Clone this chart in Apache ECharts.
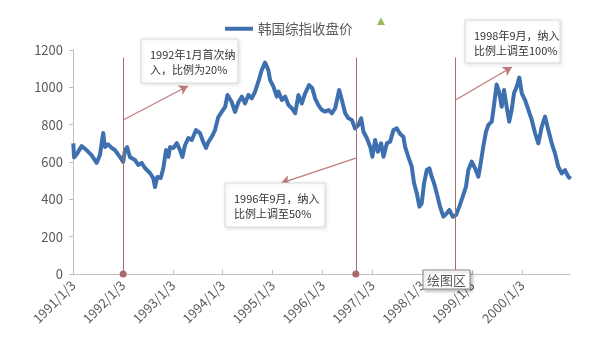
<!DOCTYPE html>
<html><head><meta charset="utf-8">
<script src="https://cdn.jsdelivr.net/npm/echarts@6/dist/echarts.min.js"></script>
<style>html,body{margin:0;padding:0;background:#fff}#c{width:616px;height:353px}</style>
</head><body><div id="c"></div>
<script>
const seriesName = '韩国综指收盘价';
const dates = [
'1991-01-03','1991-01-09','1991-01-27','1991-03-05','1991-04-10','1991-05-17','1991-06-23','1991-07-17','1991-08-10','1991-08-23',
'1991-09-16','1991-10-11','1991-11-04','1991-12-10','1992-01-03','1992-01-16','1992-02-01','1992-02-21','1992-03-29','1992-04-22',
'1992-05-17','1992-06-10','1992-07-17','1992-08-10','1992-08-23','1992-09-09','1992-10-04','1992-10-23','1992-11-12','1992-11-29',
'1992-12-11','1993-01-06','1993-01-30','1993-02-23','1993-03-12','1993-04-01','1993-04-25','1993-05-20','1993-06-20','1993-07-19',
'1993-08-12','1993-09-01','1993-09-18','1993-10-13','1993-11-06','1993-11-30','1993-12-25','1994-01-19','1994-02-05','1994-03-08',
'1994-04-01','1994-04-26','1994-05-21','1994-06-14','1994-07-08','1994-08-02','1994-08-26','1994-09-19','1994-10-14','1994-11-07',
'1994-12-01','1994-12-14','1995-01-07','1995-02-01','1995-02-13','1995-03-10','1995-04-03','1995-04-27','1995-05-22','1995-06-15',
'1995-07-09','1995-08-03','1995-08-27','1995-09-25','1995-10-19','1995-11-08','1995-12-02','1995-12-27','1996-01-21','1996-02-14',
'1996-03-10','1996-04-03','1996-05-02','1996-05-22','1996-06-15','1996-07-09','1996-08-03','1996-08-27','1996-09-20','1996-10-10',
'1996-10-27','1996-11-21','1996-12-15','1997-01-01','1997-01-21','1997-02-10','1997-03-06','1997-03-23','1997-04-17','1997-05-11',
'1997-06-04','1997-06-29','1997-07-23','1997-08-16','1997-08-28','1997-09-21','1997-10-16','1997-11-02','1997-11-22','1997-12-11',
'1997-12-28','1998-01-14','1998-02-03','1998-02-22','1998-03-11','1998-03-28','1998-04-17','1998-05-11','1998-06-04','1998-06-29',
'1998-07-18','1998-08-12','1998-09-05','1998-09-29','1998-10-24','1998-11-17','1998-12-04','1998-12-29','1999-01-22','1999-02-15',
'1999-03-04','1999-03-23','1999-04-12','1999-04-29','1999-05-24','1999-06-05','1999-06-29','1999-07-16','1999-08-05','1999-08-22',
'1999-09-10','1999-09-29','1999-10-17','1999-11-03','1999-11-23','1999-12-12','1999-12-30','2000-01-23','2000-02-16','2000-03-12',
'2000-04-05','2000-04-29','2000-05-24','2000-06-17','2000-07-11','2000-08-05','2000-08-29','2000-09-22','2000-10-17','2000-11-10',
'2000-12-04','2000-12-22'
];
const closeValues = [
700,625,640,685,664,637,595,637,755,680,
695,675,664,627,600,664,680,627,611,584,
595,568,541,514,466,520,514,568,664,627,
680,675,701,664,627,691,728,718,771,755,
707,675,707,734,771,841,868,895,959,921,
868,920,950,914,959,941,977,1030,1093,1132,
1093,1039,1004,950,977,932,950,905,888,861,
959,914,968,1012,995,941,905,879,870,879,
861,888,986,932,861,834,825,780,798,834,
762,727,682,628,718,655,700,628,700,709,
771,780,750,735,682,628,575,486,432,361,
379,486,557,566,521,486,432,361,307,325,
343,307,316,361,414,468,557,602,566,521,
593,682,762,798,816,879,1015,977,896,986,
896,816,879,968,1004,1052,968,932,879,825,
754,700,789,843,771,700,646,575,539,557,
521,510
];
const tickYears = [1991,1992,1993,1994,1995,1996,1997,1998,1999,2000];
const tickLabels = ['1991/1/3','1992/1/3','1993/1/3','1994/1/3','1995/1/3','1996/1/3','1997/1/3','1998/1/3','1999/1/3','2000/1/3'];
const policyDates = ['1992-01-03','1996-09-01','1998-09-01'];
const policyTexts = ['1992年1月首次纳\n入，比例为20%','1996年9月，纳入\n比例上调至50%','1998年9月，纳入\n比例上调至100%'];
const arrowFrom = [['1992-01-03',825],['1996-09-01',621],['1998-09-01',932]];
const arrowTo = [['1993-04-22',1007],['1995-03-04',487],['1999-10-19',1109]];

function toYear(s){const p=s.split('-').map(Number);return p[0]+(Date.UTC(p[0],p[1]-1,p[2])-Date.UTC(p[0],0,1))/(365.25*864e5);}

const lineData = dates.map((d,i)=>[toYear(d), closeValues[i]]);
const markData = [];
policyDates.forEach((d,i)=>{
  markData.push([{coord:[toYear(d),0],symbol:'circle',symbolSize:7,itemStyle:{color:'#b0474a'}},{coord:[toYear(d),1160],symbol:'none'}]);
});
arrowFrom.forEach((f,i)=>{
  const t = arrowTo[i];
  markData.push([{coord:[toYear(f[0]),f[1]],symbol:'none',lineStyle:{color:'#c07a7a',width:1.2,type:'solid'}},{coord:[toYear(t[0]),t[1]],symbol:'arrow',symbolSize:[8,9],itemStyle:{color:'#a8343c'},lineStyle:{color:'#c07a7a',width:1.2,type:'solid'}}]);
});

const font = '"Noto Sans CJK SC", "Noto Sans", sans-serif';
const boxes = [
  {x:141,y:39,w:97,h:44},
  {x:225,y:183,w:100,h:44},
  {x:465,y:20,w:95,h:43}
];
const graphics = [];
boxes.forEach((b,i)=>{
  graphics.push({type:'rect',z:100,shape:{x:b.x,y:b.y,width:b.w,height:b.h},style:{fill:'#fff',stroke:'#dcdcdc',lineWidth:1,shadowBlur:4,shadowColor:'rgba(0,0,0,0.12)',shadowOffsetX:1,shadowOffsetY:1}});
  graphics.push({type:'text',z:101,x:b.x+9,y:b.y+8,style:{text:policyTexts[i],font:'11px '+font,fill:'#333',lineHeight:15,verticalAlign:'top'}});
});
graphics.push({type:'rect',z:100,shape:{x:423,y:270,width:47,height:19},style:{fill:'#fff',stroke:'#8c8c8c',lineWidth:1,shadowBlur:3,shadowColor:'rgba(0,0,0,0.25)',shadowOffsetX:2,shadowOffsetY:2}});
graphics.push({type:'text',z:101,x:446.5,y:280,style:{text:'绘图区',font:'13px '+font,fill:'#595959',align:'center',verticalAlign:'middle'}});
graphics.push({type:'polygon',z:100,shape:{points:[[377,25],[385,25],[381,17.5]]},style:{fill:'#9bbb59'}});

const chart = echarts.init(document.getElementById('c'));
chart.setOption({
  animation:false,
  backgroundColor:'#fff',
  textStyle:{fontFamily:font},
  legend:{data:[{name:seriesName,icon:'rect'}],left:220,top:17,itemWidth:28,itemHeight:4,itemGap:8,
    textStyle:{fontSize:13.5,color:'#595959',fontFamily:font}},
  grid:{left:73,right:46,top:50,bottom:79,containLabel:false},
  xAxis:{type:'value',min:1991,max:2000.96,
    axisLine:{lineStyle:{color:'#bfbfbf'}},
    axisTick:{show:true,inside:true,length:4,customValues:tickYears,lineStyle:{color:'#bfbfbf'}},
    axisLabel:{customValues:tickYears,rotate:45,margin:9,fontSize:13,color:'#595959',
      formatter:v=>{const i=tickYears.indexOf(Math.round(v));return i>=0?tickLabels[i]:'';}},
    splitLine:{show:false}},
  yAxis:{type:'value',min:0,max:1200,interval:200,
    axisLine:{show:true,lineStyle:{color:'#bfbfbf'}},
    axisTick:{show:true,length:4,lineStyle:{color:'#bfbfbf'}},
    axisLabel:{fontSize:13,color:'#595959',margin:10,formatter:v=>String(v)},
    splitLine:{show:false}},
  series:[{name:seriesName,type:'line',data:lineData,symbol:'none',
    lineStyle:{color:'#3e70b0',width:4,join:'round'},itemStyle:{color:'#3e70b0'},
    markLine:{silent:true,animation:false,symbol:['none','none'],label:{show:false},
      lineStyle:{color:'#a86a6a',width:1,type:'solid'},data:markData}}],
  graphic:graphics
});
</script></body></html>
